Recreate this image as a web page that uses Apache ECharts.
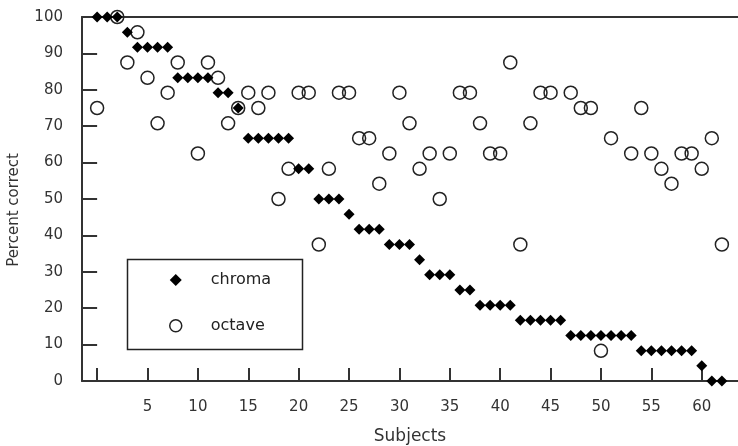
<!DOCTYPE html>
<html>
<head>
    <meta charset="utf-8">
    <title>chroma vs octave</title>
    <script src="https://cdn.jsdelivr.net/npm/echarts@6/dist/echarts.min.js"></script>
</head>
<body style="margin:0;background-color:#fff;">
    <div id="main" style="width:738px;height:446px;"></div>

    <script type="text/javascript">
        // subject index (0..62)
        var subjects = [0, 1, 2, 3, 4, 5, 6, 7, 8, 9, 10, 11, 12, 13, 14, 15, 16, 17, 18, 19,
            20, 21, 22, 23, 24, 25, 26, 27, 28, 29, 30, 31, 32, 33, 34, 35, 36, 37, 38, 39,
            40, 41, 42, 43, 44, 45, 46, 47, 48, 49, 50, 51, 52, 53, 54, 55, 56, 57, 58, 59,
            60, 61, 62];

        // percent correct, chroma task
        var chroma = [100, 100, 100, 95.8, 91.7, 91.7, 91.7, 91.7, 83.3, 83.3,
            83.3, 83.3, 79.2, 79.2, 75, 66.7, 66.7, 66.7, 66.7, 66.7,
            58.3, 58.3, 50, 50, 50, 45.8, 41.7, 41.7, 41.7, 37.5,
            37.5, 37.5, 33.3, 29.2, 29.2, 29.2, 25, 25, 20.8, 20.8,
            20.8, 20.8, 16.7, 16.7, 16.7, 16.7, 16.7, 12.5, 12.5, 12.5,
            12.5, 12.5, 12.5, 12.5, 8.3, 8.3, 8.3, 8.3, 8.3, 8.3,
            4.2, 0, 0];

        // percent correct, octave task (null = no point)
        var octave = [75, null, 100, 87.5, 95.8, 83.3, 70.8, 79.2, 87.5, null,
            62.5, 87.5, 83.3, 70.8, 75, 79.2, 75, 79.2, 50, 58.3,
            79.2, 79.2, 37.5, 58.3, 79.2, 79.2, 66.7, 66.7, 54.2, 62.5,
            79.2, 70.8, 58.3, 62.5, 50, 62.5, 79.2, 79.2, 70.8, 62.5,
            62.5, 87.5, 37.5, 70.8, 79.2, 79.2, null, 79.2, 75, 75,
            8.3, 66.7, null, 62.5, 75, 62.5, 58.3, 54.2, 62.5, 62.5,
            58.3, 66.7, 37.5];

        var xTicks = [0, 5, 10, 15, 20, 25, 30, 35, 40, 45, 50, 55, 60];
        var xLabels = [5, 10, 15, 20, 25, 30, 35, 40, 45, 50, 55, 60];

        function pairs(vals) {
            var out = [];
            for (var i = 0; i < subjects.length; i++) {
                if (vals[i] !== null) out.push([subjects[i], vals[i]]);
            }
            return out;
        }

        var axisColor = '#333';
        var font = 'DejaVu Sans';

        var myChart = echarts.init(document.getElementById('main'));

        var option = {
            backgroundColor: '#fff',
            animation: false,
            textStyle: { fontFamily: font },
            grid: { left: 82, right: 0, top: 17, bottom: 65, outerBoundsMode: 'none' },
            legend: {
                orient: 'vertical',
                left: 164,
                top: 267,
                itemWidth: 12,
                itemHeight: 12,
                itemGap: 29.7,
                textStyle: { fontFamily: font, fontSize: 16, color: '#222', padding: [0, 0, 0, 24], lineHeight: 12 },
                data: [
                    { name: 'chroma', icon: 'diamond', itemStyle: { color: '#000' } },
                    { name: 'octave', icon: 'circle', itemStyle: { color: '#fff', borderColor: '#222', borderWidth: 1.5 } }
                ]
            },
            graphic: [{
                type: 'rect',
                left: 125, top: 257,
                shape: { width: 175, height: 90 },
                style: { fill: 'none', stroke: '#222', lineWidth: 1.5 },
                z: 1
            }],
            xAxis: [{
                type: 'value',
                min: -1.5, max: 63.6,
                name: 'Subjects',
                nameLocation: 'middle',
                nameGap: 47,
                nameTextStyle: { fontFamily: font, fontSize: 17, color: '#333' },
                axisLine: { show: true, onZero: false, lineStyle: { color: axisColor, width: 2 } },
                axisTick: { show: true, inside: true, length: 13, customValues: xTicks, lineStyle: { color: axisColor, width: 2 } },
                axisLabel: { customValues: xLabels, margin: 19, fontFamily: font, fontSize: 15, color: '#333' },
                splitLine: { show: false }
            }, {
                type: 'value',
                position: 'top',
                min: -1.5, max: 63.6,
                axisLine: { show: true, onZero: false, lineStyle: { color: axisColor, width: 2 } },
                axisTick: { show: false },
                axisLabel: { show: false },
                splitLine: { show: false }
            }],
            yAxis: [{
                type: 'value',
                min: 0, max: 100, interval: 10,
                name: 'Percent correct',
                nameLocation: 'middle',
                nameGap: 60,
                nameTextStyle: { fontFamily: font, fontSize: 15, color: '#333', padding: [0, 22, 0, 0] },
                axisLine: { show: true, onZero: false, lineStyle: { color: axisColor, width: 2 } },
                axisTick: { show: true, inside: true, length: 15, lineStyle: { color: axisColor, width: 2 } },
                axisLabel: { margin: 19, fontFamily: font, fontSize: 15, color: '#333' },
                splitLine: { show: false }
            }, {
                type: 'value',
                position: 'right',
                min: 0, max: 100, interval: 10,
                axisLine: { show: false },
                axisTick: { show: true, inside: true, length: 6, lineStyle: { color: axisColor, width: 2 } },
                axisLabel: { show: false },
                splitLine: { show: false }
            }],
            series: [{
                name: 'octave',
                type: 'scatter',
                symbol: 'circle',
                symbolSize: 13,
                itemStyle: { color: 'rgba(0,0,0,0)', borderColor: '#222', borderWidth: 1.5, opacity: 1 },
                data: pairs(octave),
                z: 2
            }, {
                name: 'chroma',
                type: 'scatter',
                symbol: 'diamond',
                symbolSize: [11, 11],
                itemStyle: { color: '#000', opacity: 1 },
                data: pairs(chroma),
                z: 3
            }]
        };

        myChart.setOption(option);
    </script>
</body>
</html>
